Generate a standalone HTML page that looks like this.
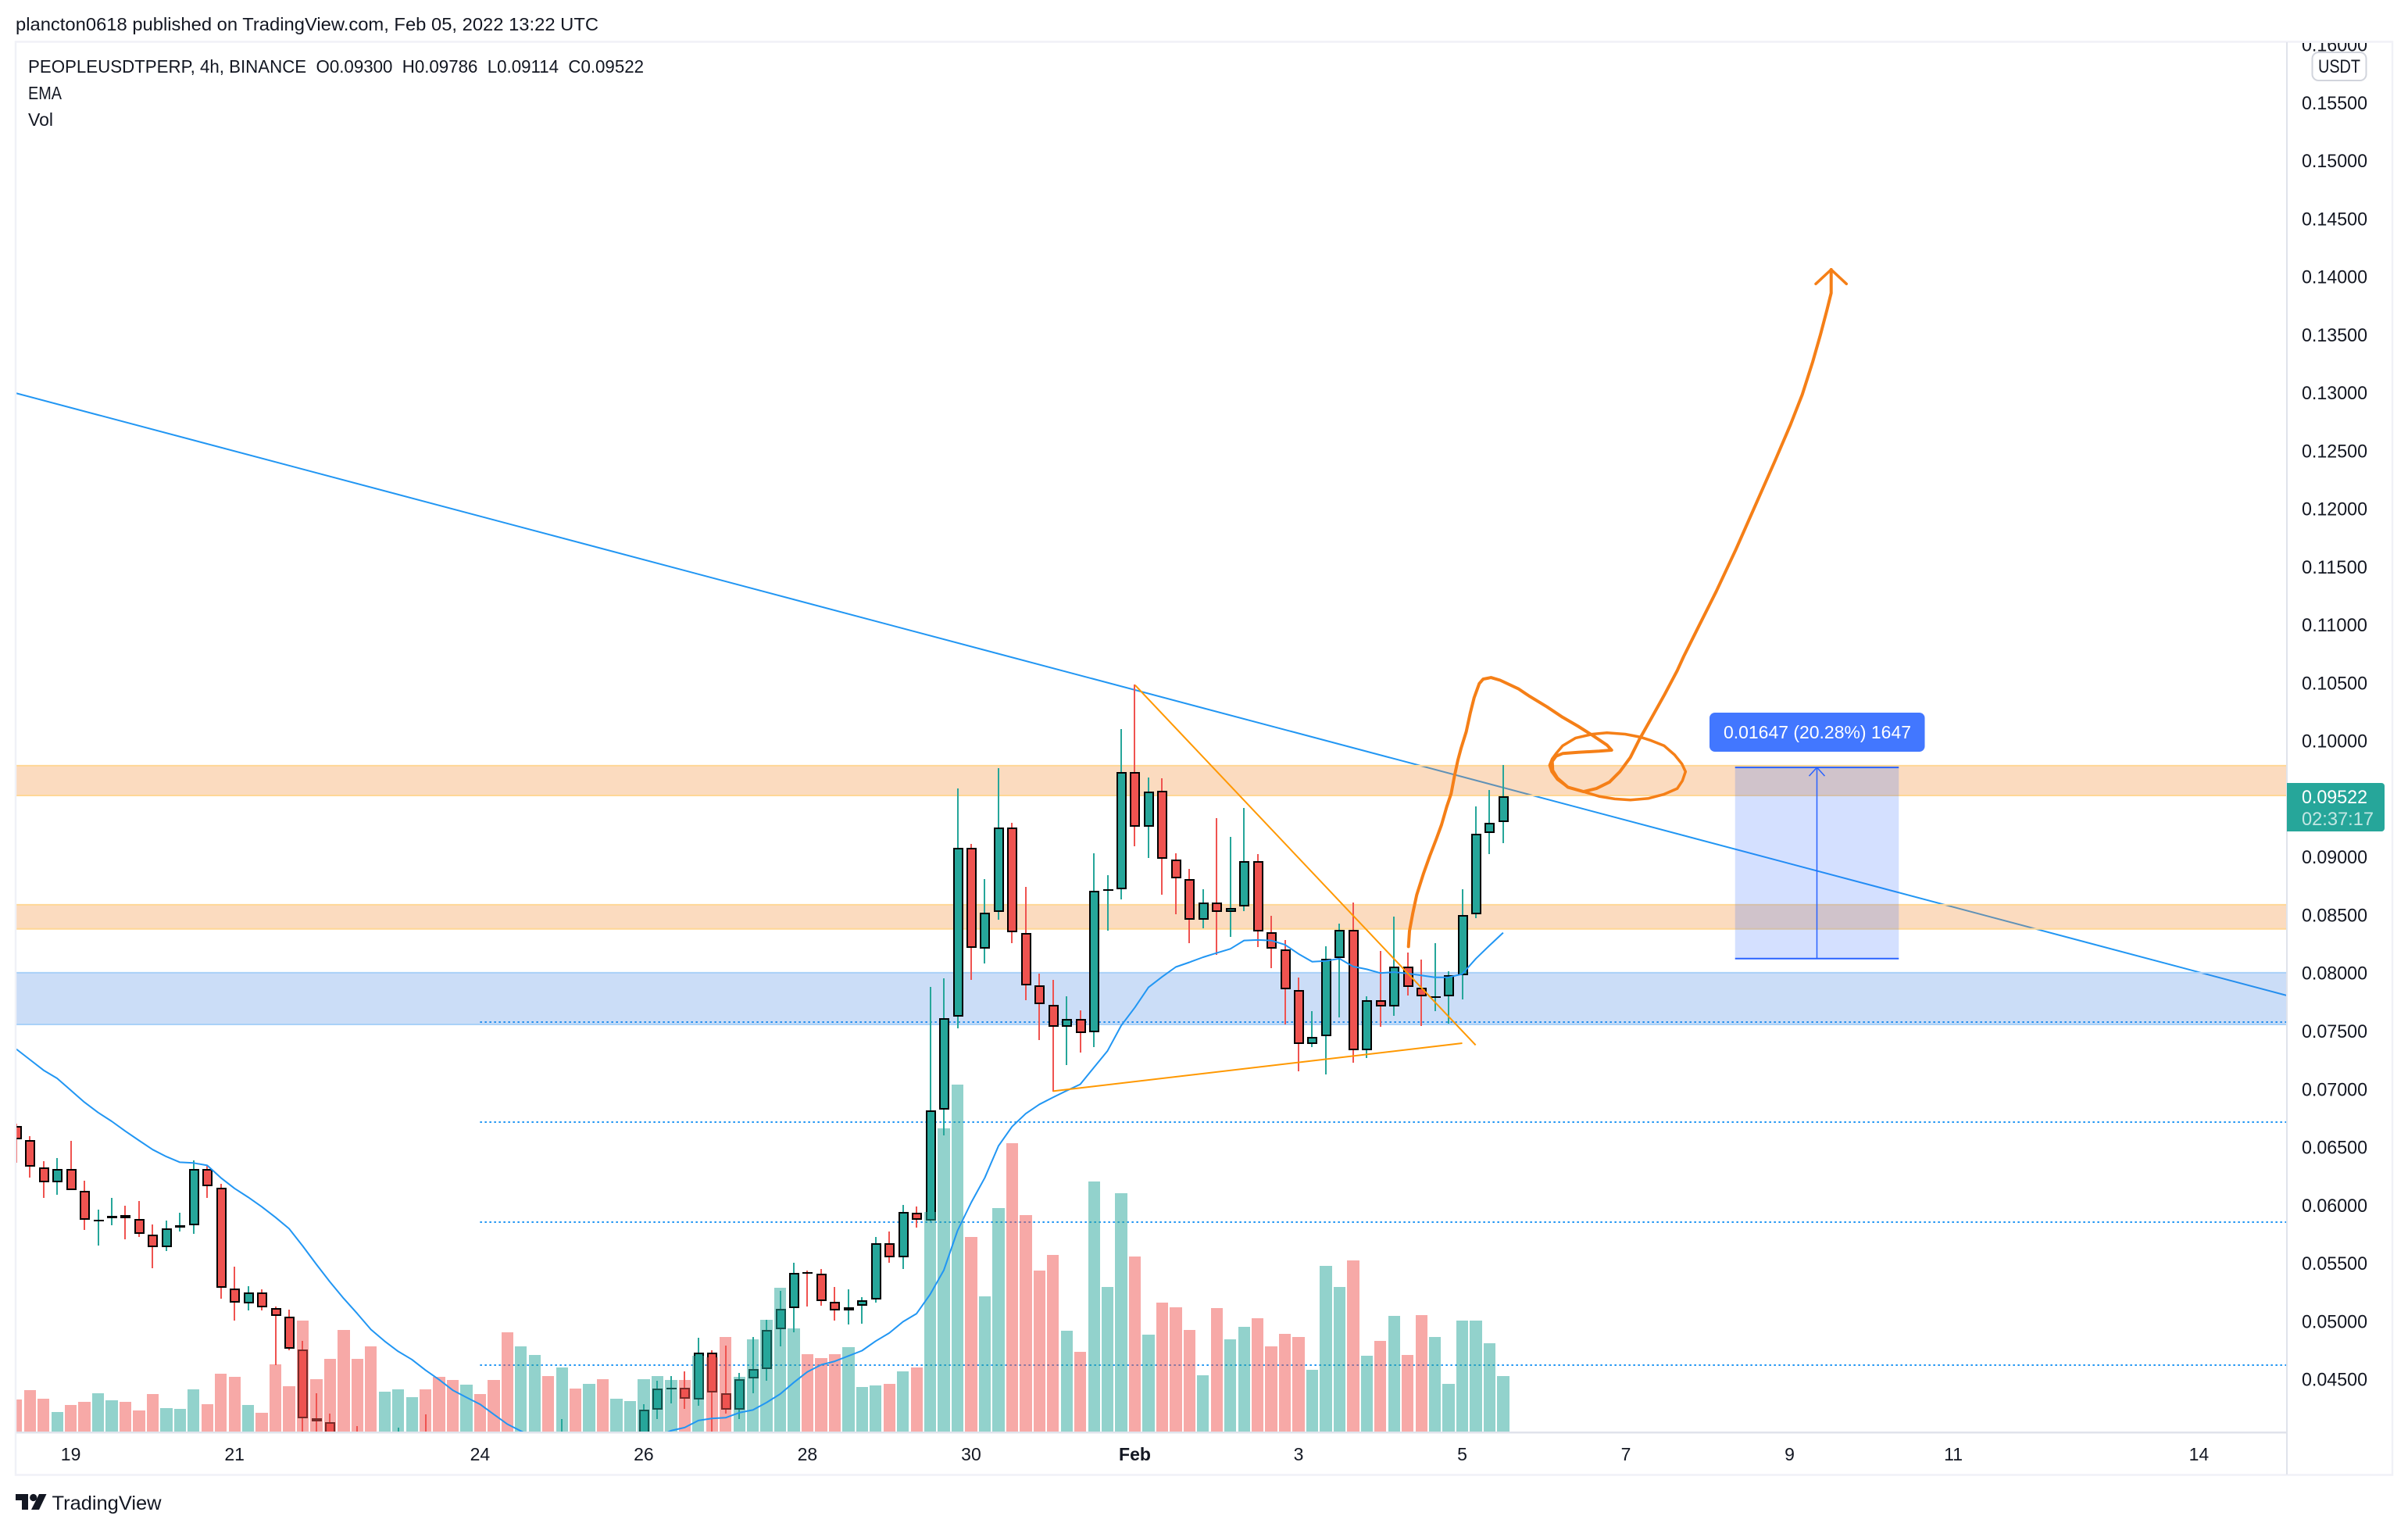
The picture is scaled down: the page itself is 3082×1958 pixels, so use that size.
<!DOCTYPE html>
<html lang="en">
<head>
<meta charset="utf-8">
<title>PEOPLEUSDTPERP 4h chart</title>
<style>
html,body{margin:0;padding:0;background:#fff;}
svg{display:block;font-family:"Liberation Sans",sans-serif;}
text{white-space:pre;}
</style>
</head>
<body>
<svg id="chart" xmlns="http://www.w3.org/2000/svg" width="3082" height="1958" viewBox="0 0 3082 1958">
  <defs>
    <clipPath id="plot-clip"><rect x="21" y="54" width="2905" height="1778"/></clipPath>
    <clipPath id="axis-clip"><rect x="2929" y="55" width="132" height="1776"/></clipPath>
  </defs>
  <rect x="0" y="0" width="3082" height="1958" fill="#ffffff"/>
  <text x="20" y="39" font-size="23" fill="#131722" textLength="746" lengthAdjust="spacingAndGlyphs">plancton0618 published on TradingView.com, Feb 05, 2022 13:22 UTC</text>

  <g clip-path="url(#plot-clip)">
    <g id="under-layer"></g>
    <g id="zone-layer"></g>
    <g id="candle-layer" shape-rendering="crispEdges"></g>
    <g id="volume-layer" shape-rendering="crispEdges"></g>
    <g id="ema-layer"></g>
    <g id="drawing-layer"></g>
    <g fill="none" stroke="#f57f17" stroke-linecap="round" stroke-linejoin="round">
      <polyline stroke-width="4" points="1802.7,1211.4 1804,1191.5 1808.3,1168.3 1813.3,1145.1 1821.7,1118.6 1830,1095.3 1838.3,1073.8 1845,1055.5 1851.7,1032.3 1857.3,1015.7 1861.7,992.5 1866,972.6 1870,957.7 1876.7,936.1 1881.7,912.9 1886.7,893 1893.3,874.8 1898.3,869.1 1908.3,867.1 1920,870.5 1943.3,881.4 1956.7,890.4 1980,904.6 2000,917.9 2020,929.5 2038.3,941.1 2056.7,953.4 2062.7,960 2046.7,961.3 2020,962.7 2000,964.3 1991.7,967.6 1986.7,974.3 1987.3,985.9 1993.3,995.8 2006.7,1007.4 2026.7,1013.1 2043.3,1009.1 2060,1000.8 2073.3,987.5 2086.7,969.3 2098.3,946.1 2113.3,919.6 2130,889.7 2146.7,858.2 2155,840 2173.3,803.3 2196.7,756.7 2221.7,703.3 2246.7,646.7 2271.7,590 2291.7,543.3 2306.7,505 2320,463.3 2330,428.3 2338.3,396.7 2343.7,375 2343.7,345"/>
      <polyline stroke-width="3.5" points="2324,363.3 2343.7,345 2363.3,363.3"/>
      <polyline stroke-width="3.5" points="1991.7,964.3 2000,954.4 2016.7,944.4 2038.3,939.5 2056.7,937.8 2080,939.5 2100,943.4 2113.3,947.7 2130,954.4 2143.3,966 2152.7,977.6 2157.3,987.5 2153.3,999.2 2146.7,1009.1 2130,1016.4 2110,1021.7 2086.7,1023.7 2066.7,1022.4 2046.7,1019.1 2026.7,1013.1 2006.7,1007.4 1993.3,997.5 1986,987.5 1983.3,979.3 1986.7,971 1991.7,964.3"/>
    </g>
    <g id="measure-layer"></g>
  </g>

  <rect x="20" y="53.5" width="3042" height="1834" fill="none" stroke="#f0f1f7" stroke-width="2.5"/>
  <rect x="2926" y="54" width="2" height="1833" fill="#e0e3eb"/>
  <rect x="21" y="1832" width="2905" height="2.5" fill="#e0e3eb"/>

  <g id="price-axis" clip-path="url(#axis-clip)" font-size="24" fill="#131722"></g>
  <g id="time-axis" font-size="23" fill="#131722" text-anchor="middle"></g>

  <g>
    <rect x="2959.5" y="67" width="69" height="36" rx="8" fill="#ffffff" stroke="#d1d4dc" stroke-width="2"/>
    <text x="2994" y="93" font-size="24" fill="#131722" text-anchor="middle" textLength="54" lengthAdjust="spacingAndGlyphs">USDT</text>
  </g>

  <g>
    <path d="M2927 1002H3048a4 4 0 0 1 4 4V1060a4 4 0 0 1 -4 4H2927Z" fill="#26a69a"/>
    <text x="2946" y="1028" font-size="24" fill="#ffffff" textLength="84" lengthAdjust="spacingAndGlyphs">0.09522</text>
    <text x="2946" y="1056" font-size="24" fill="#ffffff" fill-opacity="0.72" textLength="92" lengthAdjust="spacingAndGlyphs">02:37:17</text>
  </g>

  <g>
    <rect x="2188" y="912" width="275.5" height="50" rx="7" fill="#4277ff"/>
    <text x="2206" y="945" font-size="23" fill="#ffffff" textLength="240" lengthAdjust="spacingAndGlyphs">0.01647 (20.28%) 1647</text>
  </g>

  <g font-size="23" fill="#131722">
    <text x="36" y="93" textLength="788" lengthAdjust="spacingAndGlyphs">PEOPLEUSDTPERP, 4h, BINANCE  O0.09300  H0.09786  L0.09114  C0.09522</text>
    <text x="36" y="127" textLength="43" lengthAdjust="spacingAndGlyphs">EMA</text>
    <text x="36" y="161" textLength="32" lengthAdjust="spacingAndGlyphs">Vol</text>
  </g>

  <g>
    <path d="M20 1912H36V1932H28V1920H20ZM50 1912H59.5L50 1932H40Z" fill="#131722"/>
    <circle cx="42.7" cy="1916.5" r="4.6" fill="#131722"/>
    <text x="66.5" y="1932" font-size="25" fill="#131722" textLength="140" lengthAdjust="spacingAndGlyphs">TradingView</text>
  </g>
</svg>

<script>
// Prices are in exchange ticks: 1 tick = 0.00001 USDT. Bar 0 is 19 Jan 00:00, one bar = 4h.
const firstBar = -4;
const opens = [6679,6557,6323,6193,6305,6123,5870,5883,5913,5880,5743,5636,5804,5825,6305,6147,5281,5150,5244,5110,5037,4755,4159,4129,
3980,4000,3960,3800,3900,3960,4020,3920,3860,3780,3860,3760,3680,3580,3650,3720,3680,3900,3820,3900,3840,3920,
3980,4232,4417,4426,4323,4727,4378,4232,4505,4584,4928,5110,5421,5408,5165,5089,5129,5183,5670,5548,5931,5867,6819,7618,9078,8207,8525,9253,8344,7890,7722,7534,7601,7486,8712,8720,9730,9258,9569,8977,8808,8457,8607,8525,8573,8962,8349,8202,7851,7385,7452,8126,8371,7332,7762,7710,8053,7871,7791,7794,7979,8503,9203,9300];
const highs = [6697,6591,6375,6402,6551,6208,5959,6059,5992,6032,5831,5864,5931,6384,6336,6177,5466,5299,5272,5120,5098,4828,4378,4201,
4020,4095,4020,3950,4080,4030,4195,4030,3980,3900,3950,3860,3800,3700,3780,3800,4153,4000,3950,3990,3960,4020,
4283,4484,4524,4566,4855,4743,4788,4554,4861,5010,5259,5500,5430,5448,5293,5272,5202,5725,5770,5998,5986,7877,7950,9588,9107,8806,9763,9292,8739,7991,7936,7796,7676,9027,8840,10100,10482,9682,9674,9027,8893,8720,9330,9169,9419,9023,8489,8282,7957,7669,8227,8421,8602,7796,8186,8482,8174,8113,8253,8013,8720,9431,9573,9786];
const lows = [6363,6232,6059,6086,6126,5782,5649,5825,5703,5725,5454,5603,5767,5752,6059,5193,5004,5089,5089,4615,4749,3990,3990,3950,
3860,3850,3800,3700,3800,3880,3860,3800,3700,3700,3720,3600,3520,3500,3580,3600,3620,3760,3760,3780,3780,3860,
3900,4153,4290,4241,4265,3986,4201,4153,4378,4484,4779,4904,5123,5132,5004,4968,4977,5159,5500,5448,5804,5860,6597,7522,7940,8082,8457,8251,7765,7421,6978,7207,7313,7361,8364,8633,9090,8991,8674,8506,8255,8385,8150,8308,8530,8222,8041,7556,7152,7361,7125,7616,7226,7267,7536,7630,7803,7541,7669,7563,7772,8469,9023,9114];
const closes = [6564,6329,6193,6305,6126,5870,5873,5907,5883,5749,5636,5797,5825,6305,6159,5284,5156,5244,5116,5044,4761,4162,4135,4000,
3900,3880,3850,3900,4000,4000,3920,3860,3780,3860,3760,3680,3580,3650,3720,3680,3900,3820,3900,3840,3920,3980,
4232,4414,4426,4329,4727,4384,4232,4499,4584,4922,5104,5411,5411,5171,5089,5116,5177,5670,5548,5940,5870,6816,7609,9078,8215,8518,9253,8349,7890,7729,7534,7601,7481,8705,8717,9730,9258,9561,8982,8813,8457,8607,8525,8558,8962,8356,8207,7856,7385,7447,8121,8371,7332,7765,7710,8053,7875,7794,7796,7979,8498,9198,9292,9522];
const volumes = [10.0,13.0,10.3,6.0,8.2,9.3,12.1,9.8,9.3,6.5,11.7,7.2,7.0,13.3,8.6,18.3,17.3,8.2,5.8,21.3,14.3,35.3,16.5,23.0,
32.3,23.0,27.0,12.5,13.3,10.7,13.3,17.3,16.3,14.8,11.7,16.3,31.5,27.0,24.3,17.5,20.3,13.5,15.0,16.5,10.3,9.5,
16.5,17.5,16.3,16.3,23.9,23.4,30.0,17.3,29.2,35.6,45.8,32.7,24.5,23.3,24.5,26.7,14.0,14.6,15.0,19.1,20.3,69.9,96.7,110.7,62.1,43.0,71.2,92.0,69.1,51.2,56.3,32.1,25.3,79.8,46.0,76.0,55.8,30.8,41.0,39.5,32.3,17.8,39.3,29.3,33.3,36.0,27.0,31.0,30.0,19.5,52.8,46.0,54.5,24.0,28.8,36.8,24.3,37.0,30.0,15.0,35.3,35.3,28.0,17.5];
const emaValues = [7342,7251,7159,7089,6986,6883,6795,6719,6634,6554,6475,6415,6366,6360,6339,6232,6141,6065,5983,5892,5794,5645,5487,5335,
5193,5062,4925,4825,4737,4667,4575,4493,4402,4341,4281,4195,4110,4050,3990,3950,3920,3900,3890,3885,3890,3900,
3930,4000,4053,4080,4141,4159,4165,4208,4232,4296,4369,4469,4560,4621,4651,4697,4743,4825,4895,4992,5062,5229,5436,5776,6019,6232,6506,6673,6785,6865,6925,6983,7038,7183,7327,7544,7700,7873,7964,8049,8089,8133,8169,8205,8277,8282,8277,8241,8162,8094,8101,8121,8053,8029,7996,8005,7993,7976,7960,7960,7988,8121,8234,8344];

const priceTicks = [16000,15500,15000,14500,14000,13500,13000,12500,12000,11500,11000,10500,10000,9000,8500,8000,7500,7000,6500,6000,5500,5000,4500];
const priceTickLabels = ['0.16000','0.15500','0.15000','0.14500','0.14000','0.13500','0.13000','0.12500','0.12000','0.11500','0.11000','0.10500','0.10000','0.09000','0.08500','0.08000','0.07500','0.07000','0.06500','0.06000','0.05500','0.05000','0.04500'];
const timeLabels = ['19','21','24','26','28','30','Feb','3','5','7','9','11','14'];
const timeLabelBars = [0,12,30,42,54,66,78,90,102,114,126,138,156];

const orangeZones = [[9783,9527],[8585,8377]];
const blueZones = [[7999,7554]];
const dottedLevels = [7574,6713,5851,4619];
const dottedStartBar = 30;
const resistanceLine = [[-4.04,12994],[162.45,7803]];
const triangleUpper = [[78.02,10477],[102.98,7376]];
const triangleLower = [[72,6979],[102,7392]];
const measureBars = [122,134];
const measurePrices = [8121,9768];

const NS = 'http://www.w3.org/2000/svg';
const xOf = bar => 90.6 + 17.46 * bar;
const yOf = ticks => 947.7 + (10000 - ticks) * 0.14852;
const volY = v => 1831 - v * 4;
const plotLeft = 20, plotRight = 2927;
const GREEN = '#26a69a', RED = '#ef5350';

function make(parent, tag, attrs) {
  const node = document.createElementNS(NS, tag);
  for (const key in attrs) node.setAttribute(key, attrs[key]);
  parent.appendChild(node);
  return node;
}

const under = document.getElementById('under-layer');
const zones = document.getElementById('zone-layer');
const candles = document.getElementById('candle-layer');
const vols = document.getElementById('volume-layer');
const emaLayer = document.getElementById('ema-layer');
const drawing = document.getElementById('drawing-layer');
const measure = document.getElementById('measure-layer');
const priceAxis = document.getElementById('price-axis');
const timeAxis = document.getElementById('time-axis');

// dotted horizontal rays
dottedLevels.forEach(level => {
  const y = Math.round(yOf(level));
  const ray = make(under, 'line', {x1: xOf(dottedStartBar), y1: y, x2: plotRight, y2: y, stroke: '#2196f3', 'stroke-width': 2, 'stroke-dasharray': '2.5 3.5'});
  
  
});

// long descending trend line
const resistance = make(under, 'line', {x1: xOf(resistanceLine[0][0]), y1: yOf(resistanceLine[0][1]), x2: xOf(resistanceLine[1][0]), y2: yOf(resistanceLine[1][1]), stroke: '#2196f3', 'stroke-width': 2});



// price zones
function drawZone(pair, fill, edge, name) {
  const top = yOf(pair[0]), bottom = yOf(pair[1]);
  const box = make(zones, 'rect', {x: plotLeft, y: top, width: plotRight - plotLeft, height: bottom - top, fill: fill});
  
  
  [top, bottom].forEach(y => {
    const line = make(zones, 'line', {x1: plotLeft, y1: y, x2: plotRight, y2: y, stroke: edge, 'stroke-width': 2});
    
    
  });
}
orangeZones.forEach(z => drawZone(z, 'rgba(242,135,42,0.3)', '#ffd796', 'resistance-zone'));
blueZones.forEach(z => drawZone(z, 'rgba(47,119,223,0.25)', '#a9d1f8', 'support-zone'));

// candles
opens.forEach((open, k) => {
  const x = Math.round(xOf(k + firstBar));
  const up = closes[k] >= open;
  const color = up ? GREEN : RED;
  const wickTop = Math.round(yOf(highs[k]));
  const wickBottom = Math.round(yOf(lows[k]));
  const wick = make(candles, 'rect', {x: x - 1, y: wickTop, width: 2, height: Math.max(1, wickBottom - wickTop), fill: color});
  
  
  const top = Math.round(yOf(Math.max(open, closes[k])));
  const bottom = Math.round(yOf(Math.min(open, closes[k])));
  const height = Math.max(2, bottom - top);
  const outline = make(candles, 'rect', {x: x - 6, y: top, width: 13, height: height, fill: '#000000'});
  
  
  if (height > 4) {
    const body = make(candles, 'rect', {x: x - 4, y: top + 2, width: 9, height: height - 4, fill: color});
    
    
  }
});

// volume histogram, painted over the candles
volumes.forEach((v, k) => {
  const x = xOf(k + firstBar);
  const left = Math.round(x - 7.6);
  const right = Math.round(x + 7.7);
  const top = Math.round(volY(v));
  const color = closes[k] >= opens[k] ? 'rgba(38,166,154,0.5)' : 'rgba(239,83,80,0.5)';
  const bar = make(vols, 'rect', {x: left, y: top, width: right - left, height: 1832 - top, fill: color});
  
  
});

// EMA
const emaPoints = emaValues.map((v, k) => xOf(k + firstBar).toFixed(1) + ',' + yOf(v).toFixed(1)).join(' ');
const emaLine = make(emaLayer, 'polyline', {points: emaPoints, fill: 'none', stroke: '#2196f3', 'stroke-width': 2, 'stroke-linejoin': 'round'});



// triangle lines
function drawOrangeLine(seg, name) {
  const line = make(drawing, 'line', {x1: xOf(seg[0][0]), y1: yOf(seg[0][1]), x2: xOf(seg[1][0]), y2: yOf(seg[1][1]), stroke: '#ff9800', 'stroke-width': 2});
  
  
}
drawOrangeLine(triangleUpper, 'triangle-upper-line');
drawOrangeLine(triangleLower, 'triangle-lower-line');

// price range measure tool
const mx1 = xOf(measureBars[0]), mx2 = xOf(measureBars[1]);
const myLow = yOf(measurePrices[0]), myHigh = yOf(measurePrices[1]);
const mxMid = (mx1 + mx2) / 2;
const measureBox = make(measure, 'rect', {x: mx1, y: myHigh, width: mx2 - mx1, height: myLow - myHigh, fill: 'rgba(41,98,255,0.2)'});


[myHigh, myLow].forEach(y => {
  const edge = make(measure, 'line', {x1: mx1, y1: y, x2: mx2, y2: y, stroke: '#2962ff', 'stroke-width': 2});
  
  
});
const measureStem = make(measure, 'line', {x1: mxMid, y1: myLow, x2: mxMid, y2: myHigh, stroke: '#2962ff', 'stroke-width': 1.5});


const measureHead = make(measure, 'polyline', {points: (mxMid - 10) + ',' + (myHigh + 11) + ' ' + mxMid + ',' + myHigh + ' ' + (mxMid + 10) + ',' + (myHigh + 11), fill: 'none', stroke: '#2962ff', 'stroke-width': 1.5});



// axes
priceTicks.forEach((tick, k) => {
  const label = make(priceAxis, 'text', {x: 2946, y: yOf(tick) + 9, textLength: 84, lengthAdjust: 'spacingAndGlyphs'});
  label.textContent = priceTickLabels[k];
  
  
});
timeLabels.forEach((text, k) => {
  const label = make(timeAxis, 'text', {x: xOf(timeLabelBars[k]), y: 1869});
  if (text === 'Feb') label.setAttribute('font-weight', '700');
  label.textContent = text;
  
  
});
</script>
</body>
</html>
